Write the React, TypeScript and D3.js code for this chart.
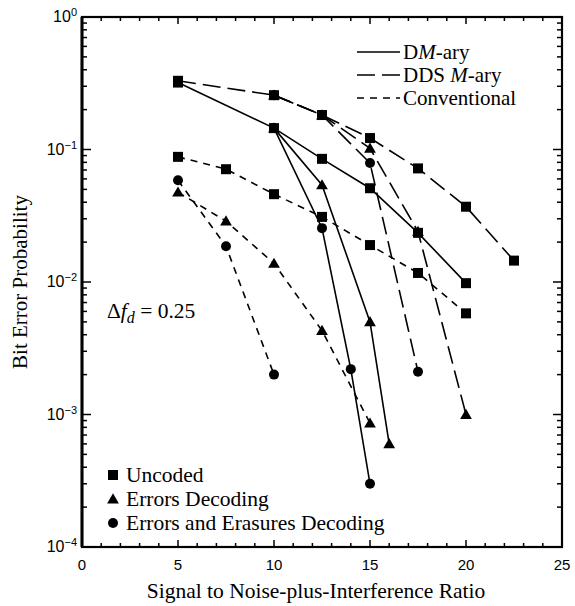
import React from 'react';
import * as d3 from 'd3';

// SNR values and bit error probabilities
const dmUncodedX = [5, 10, 12.5, 15, 17.5, 20];
const dmUncodedY = [0.32, 0.145, 0.085, 0.051, 0.0235, 0.0098];
const dmErrX = [10, 12.5, 15, 16];
const dmErrY = [0.145, 0.054, 0.005, 0.0006];
const dmEraX = [10, 12.5, 14, 15];
const dmEraY = [0.145, 0.0255, 0.0022, 0.0003];

const ddsUncodedX = [5, 10, 12.5, 15, 17.5, 20, 22.5];
const ddsUncodedY = [0.33, 0.257, 0.182, 0.122, 0.072, 0.037, 0.0145];
const ddsErrX = [10, 12.5, 15, 17.5, 20];
const ddsErrY = [0.257, 0.182, 0.102, 0.024, 0.001];
const ddsEraX = [10, 12.5, 15, 17.5];
const ddsEraY = [0.257, 0.182, 0.079, 0.0021];

const convUncodedX = [5, 7.5, 10, 12.5, 15, 17.5, 20];
const convUncodedY = [0.088, 0.071, 0.046, 0.031, 0.019, 0.0117, 0.0058];
const convErrX = [5, 7.5, 10, 12.5, 15];
const convErrY = [0.0476, 0.0288, 0.0138, 0.0043, 0.00086];
const convEraX = [5, 7.5, 10];
const convEraY = [0.0586, 0.0186, 0.002];

const xTicks = [0, 5, 10, 15, 20, 25];
const yExponents = [0, -1, -2, -3, -4];
const lineLabels = ['DM-ary', 'DDS M-ary', 'Conventional'];
const markerLabels = ['Uncoded', 'Errors Decoding', 'Errors and Erasures Decoding'];

const width = 575;
const height = 606;
const margin = { top: 17, right: 13, bottom: 59, left: 82 };

const serif = '"Liberation Serif", "Times New Roman", serif';
const sans = '"Liberation Sans", Arial, sans-serif';

const dashes: Record<string, string | undefined> = {
  solid: undefined,
  long: '18,7',
  short: '7,6',
};

type Series = { xs: number[]; ys: number[]; dash: string; mark: string };

const series: Series[] = [
  { xs: convEraX, ys: convEraY, dash: 'short', mark: 'circle' },
  { xs: convErrX, ys: convErrY, dash: 'short', mark: 'triangle' },
  { xs: convUncodedX, ys: convUncodedY, dash: 'short', mark: 'square' },
  { xs: ddsEraX, ys: ddsEraY, dash: 'long', mark: 'circle' },
  { xs: ddsErrX, ys: ddsErrY, dash: 'long', mark: 'triangle' },
  { xs: ddsUncodedX, ys: ddsUncodedY, dash: 'long', mark: 'square' },
  { xs: dmEraX, ys: dmEraY, dash: 'solid', mark: 'circle' },
  { xs: dmErrX, ys: dmErrY, dash: 'solid', mark: 'triangle' },
  { xs: dmUncodedX, ys: dmUncodedY, dash: 'solid', mark: 'square' },
];

const Marker = ({ kind, x, y }: { kind: string; x: number; y: number }) => {
  if (kind === 'square') return <rect x={x - 5} y={y - 5} width={10} height={10} fill="#000" />;
  if (kind === 'circle') return <circle cx={x} cy={y} r={5} fill="#000" />;
  const sym = d3.symbol().type(d3.symbolTriangle).size(60)();
  return <path d={sym || ''} transform={`translate(${x},${y + 1})`} fill="#000" />;
};

export default function App() {
  const x = d3.scaleLinear().domain([0, 25]).range([margin.left, width - margin.right]);
  const y = d3.scaleLog().domain([1e-4, 1]).range([height - margin.bottom, margin.top]);
  const line = d3
    .line<[number, number]>()
    .x((d) => x(d[0]))
    .y((d) => y(d[1]));

  const x0 = margin.left;
  const x1 = width - margin.right;
  const y0 = height - margin.bottom;
  const y1 = margin.top;

  // minor ticks
  const xMinor = d3.range(0, 26);
  const yMinor: number[] = [];
  for (let e = -4; e < 0; e++) for (let m = 1; m < 10; m++) yMinor.push(m * Math.pow(10, e));

  const markers = ['circle', 'triangle', 'square'];

  return (
    <svg width={width} height={height} style={{ position: 'absolute', left: 0, top: 0, background: '#fff' }}>
      {/* series lines */}
      {series.map((s, i) => (
        <path
          key={'l' + i}
          d={line(s.xs.map((v, j) => [v, s.ys[j]] as [number, number])) || ''}
          fill="none"
          stroke="#000"
          strokeWidth={1.6}
          strokeDasharray={dashes[s.dash]}
        />
      ))}
      {/* markers, drawn circles first, squares last */}
      {markers.map((m) =>
        series
          .filter((s) => s.mark === m)
          .map((s, i) => s.xs.map((v, j) => <Marker key={m + i + '-' + j} kind={m} x={x(v)} y={y(s.ys[j])} />))
      )}

      {/* ticks */}
      {xMinor.map((t) => {
        const len = t % 5 === 0 ? 7 : 4;
        return (
          <g key={'xt' + t} stroke="#000" strokeWidth={1.5}>
            <line x1={x(t)} x2={x(t)} y1={y0} y2={y0 - len} />
            <line x1={x(t)} x2={x(t)} y1={y1} y2={y1 + len} />
          </g>
        );
      })}
      {yMinor.map((t, i) => {
        const len = i % 9 === 0 ? 9 : 5;
        return (
          <g key={'yt' + i} stroke="#000" strokeWidth={1.5}>
            <line x1={x0} x2={x0 + len} y1={y(t)} y2={y(t)} />
            <line x1={x1} x2={x1 - len} y1={y(t)} y2={y(t)} />
          </g>
        );
      })}

      {/* frame */}
      <rect x={x0} y={y1} width={x1 - x0} height={y0 - y1} fill="none" stroke="#000" strokeWidth={2.2} />
      <line x1={x0} x2={x0} y1={y1} y2={y0} stroke="#000" strokeWidth={3} />

      {/* tick labels */}
      {xTicks.map((t) => (
        <text key={'xl' + t} x={x(t)} y={y0 + 23} textAnchor="middle" fontFamily={sans} fontSize={15}>
          {t}
        </text>
      ))}
      {yExponents.map((e) => (
        <text key={'yl' + e} x={x0 - 5} y={y(Math.pow(10, e)) + 5} textAnchor="end" fontFamily={sans} fontSize={16}>
          10
          <tspan dy={-6} fontSize={11}>
            {e === 0 ? '0' : '\u2212' + -e}
          </tspan>
        </text>
      ))}

      {/* axis titles */}
      <text x={316} y={598} textAnchor="middle" fontFamily={serif} fontSize={21.5}>
        Signal to Noise-plus-Interference Ratio
      </text>
      <text
        transform={`translate(27,${(y0 + y1) / 2}) rotate(-90)`}
        textAnchor="middle"
        fontFamily={serif}
        fontSize={21}
      >
        Bit Error Probability
      </text>

      {/* line-style legend */}
      {lineLabels.map((lab, i) => {
        const ly = 52 + i * 23;
        const key = ['solid', 'long', 'short'][i];
        return (
          <g key={'ll' + i}>
            <line x1={357} x2={400} y1={ly} y2={ly} stroke="#000" strokeWidth={1.6} strokeDasharray={dashes[key]} />
            <text x={403} y={ly + 7} fontFamily={serif} fontSize={21}>
              {i === 0 ? (
                <>
                  D<tspan fontStyle="italic">M</tspan>-ary
                </>
              ) : i === 1 ? (
                <>
                  DDS <tspan fontStyle="italic">M</tspan>-ary
                </>
              ) : (
                lab
              )}
            </text>
          </g>
        );
      })}

      {/* marker legend */}
      {markerLabels.map((lab, i) => {
        const my = 475 + i * 24;
        return (
          <g key={'ml' + i}>
            <Marker kind={['square', 'triangle', 'circle'][i]} x={113} y={my} />
            <text x={126} y={my + 7} fontFamily={serif} fontSize={21.5}>
              {lab}
            </text>
          </g>
        );
      })}

      {/* annotation */}
      <text x={107} y={318} fontFamily={serif} fontSize={21.5}>
        Δ<tspan fontStyle="italic">f</tspan>
        <tspan fontStyle="italic" fontSize={16} dy={5}>
          d
        </tspan>
        <tspan dy={-5}> = 0.25</tspan>
      </text>
    </svg>
  );
}
